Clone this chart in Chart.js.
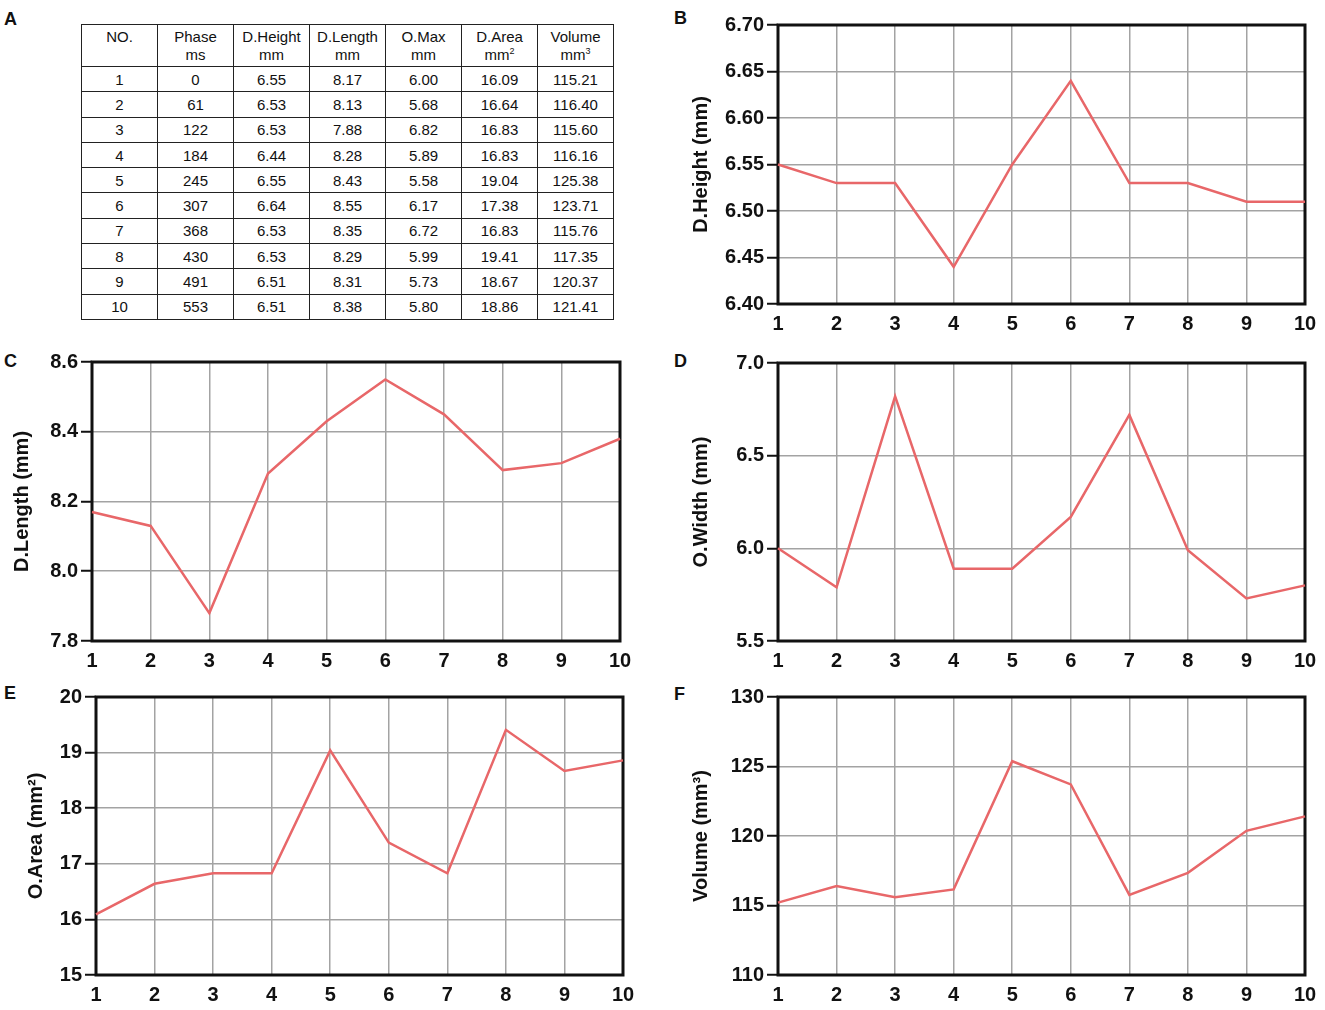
<!DOCTYPE html>
<html>
<head>
<meta charset="utf-8">
<script src="https://cdn.jsdelivr.net/npm/chart.js@4.4.1/dist/chart.umd.min.js"></script>
<style>
  body { margin: 0; background: #fff; font-family: "Liberation Sans", Arial, sans-serif; }
  #page { position: relative; width: 1325px; height: 1010px; overflow: hidden; }
  canvas { position: absolute; }
  .tag { position: absolute; font-weight: bold; font-size: 18px; color: #111; }
  table { position: absolute; left: 81px; top: 24px; border-collapse: collapse; font-size: 15px; color: #111; }
  td, th { border: 1.5px solid #222; width: 75px; text-align: center; padding: 0; font-weight: normal; }
  th { height: 42px; vertical-align: top; line-height: 18px; padding-top: 3px; box-sizing: border-box; }
  td { height: 24.3px; }
  sup { font-size: 9px; vertical-align: 6px; line-height: 0; }
</style>
</head>
<body>
<div id="page">
  <div class="tag" style="left:4px;top:9px">A</div>
  <div class="tag" style="left:674px;top:8px">B</div>
  <div class="tag" style="left:4px;top:351px">C</div>
  <div class="tag" style="left:674px;top:351px">D</div>
  <div class="tag" style="left:4px;top:683px">E</div>
  <div class="tag" style="left:674px;top:684px">F</div>
  <table id="tbl"></table>
  <canvas id="chartB" width="645" height="340" style="left:680px;top:0px"></canvas>
  <canvas id="chartC" width="660" height="340" style="left:0px;top:340px"></canvas>
  <canvas id="chartD" width="645" height="340" style="left:680px;top:340px"></canvas>
  <canvas id="chartE" width="660" height="340" style="left:0px;top:670px"></canvas>
  <canvas id="chartF" width="645" height="340" style="left:680px;top:670px"></canvas>
</div>
<script>
// table values (panel A)
const phaseNo = ['1', '2', '3', '4', '5', '6', '7', '8', '9', '10'];
const phaseMs = [0, 61, 122, 184, 245, 307, 368, 430, 491, 553];
const dHeight = [6.55, 6.53, 6.53, 6.44, 6.55, 6.64, 6.53, 6.53, 6.51, 6.51];
const dLength = [8.17, 8.13, 7.88, 8.28, 8.43, 8.55, 8.35, 8.29, 8.31, 8.38];
const oMax = [6.00, 5.68, 6.82, 5.89, 5.58, 6.17, 6.72, 5.99, 5.73, 5.80];
const dArea = [16.09, 16.64, 16.83, 16.83, 19.04, 17.38, 16.83, 19.41, 18.67, 18.86];
const volume = [115.21, 116.40, 115.60, 116.16, 125.38, 123.71, 115.76, 117.35, 120.37, 121.41];

// values as plotted (C and D differ a little from the table)
const dLengthPlot = [8.17, 8.13, 7.88, 8.28, 8.43, 8.55, 8.45, 8.29, 8.31, 8.38];
const oWidthPlot = [6.00, 5.79, 6.82, 5.89, 5.89, 6.17, 6.72, 5.99, 5.73, 5.80];

const headers = [['NO.', ''], ['Phase', 'ms'], ['D.Height', 'mm'], ['D.Length', 'mm'],
                 ['O.Max', 'mm'], ['D.Area', 'mm<sup>2</sup>'], ['Volume', 'mm<sup>3</sup>']];

let html = '<tr>' + headers.map(h => '<th>' + h[0] + '<br>' + h[1] + '</th>').join('') + '</tr>';
phaseNo.forEach((n, i) => {
    html += '<tr><td>' + n + '</td><td>' + phaseMs[i] + '</td><td>' + dHeight[i].toFixed(2) +
        '</td><td>' + dLength[i].toFixed(2) + '</td><td>' + oMax[i].toFixed(2) +
        '</td><td>' + dArea[i].toFixed(2) + '</td><td>' + volume[i].toFixed(2) + '</td></tr>';
});
document.getElementById('tbl').innerHTML = html;

const frame = {
    id: 'frame',
    beforeDatasetsDraw(chart) {
        const { ctx, chartArea: a } = chart;
        ctx.save();
        ctx.strokeStyle = '#111';
        ctx.lineWidth = 3;
        ctx.strokeRect(a.left, a.top, a.right - a.left, a.bottom - a.top);
        ctx.restore();
    }
};

const tickFont = { family: 'Liberation Sans', size: 20, weight: 'bold' };

function panel(id, values, cfg) {
    new Chart(document.getElementById(id), {
        type: 'line',
        data: {
            labels: phaseNo,
            datasets: [{
                data: values,
                borderColor: '#e86769',
                borderWidth: 2.5,
                pointRadius: 0,
                tension: 0
            }]
        },
        options: {
            responsive: false,
            animation: false,
            layout: { padding: { left: 0, top: cfg.top, right: cfg.right, bottom: 0 } },
            plugins: { legend: { display: false }, tooltip: { enabled: false } },
            scales: {
                x: {
                    grid: { color: '#a3a3a3', lineWidth: 1.5, drawTicks: false },
                    border: { display: false },
                    ticks: { color: '#111', font: tickFont, padding: 8, maxRotation: 0, autoSkip: false },
                    afterFit: s => { s.height = cfg.bottom; }
                },
                y: {
                    min: cfg.min,
                    max: cfg.max,
                    grid: { color: '#a3a3a3', lineWidth: 1.5, tickLength: 11, tickColor: '#111', tickWidth: 2 },
                    border: { display: false },
                    ticks: {
                        stepSize: cfg.step, color: '#111', font: tickFont, padding: 3,
                        callback: v => Number(v).toFixed(cfg.dec)
                    },
                    title: {
                        display: true, text: cfg.title, color: '#111',
                        font: { family: 'Liberation Sans', size: 20, weight: 'bold' },
                        padding: { top: cfg.tpad, bottom: 0 }
                    },
                    afterFit: s => { s.width = cfg.left; }
                }
            }
        },
        plugins: [frame]
    });
}

panel('chartB', dHeight, { min: 6.40, max: 6.70, step: 0.05, dec: 2, title: 'D.Height (mm)',
    left: 98, top: 25, right: 20, bottom: 36, tpad: 9 });
panel('chartC', dLengthPlot, { min: 7.8, max: 8.6, step: 0.2, dec: 1, title: 'D.Length (mm)',
    left: 92, top: 22, right: 40, bottom: 39, tpad: 10 });
panel('chartD', oWidthPlot, { min: 5.5, max: 7.0, step: 0.5, dec: 1, title: 'O.Width (mm)',
    left: 98, top: 23, right: 20, bottom: 39, tpad: 9 });
panel('chartE', dArea, { min: 15, max: 20, step: 1, dec: 0, title: 'O.Area (mm²)',
    left: 96, top: 27, right: 37, bottom: 35, tpad: 24 });
panel('chartF', volume, { min: 110, max: 130, step: 5, dec: 0, title: 'Volume (mm³)',
    left: 98, top: 27, right: 20, bottom: 35, tpad: 9 });
</script>
</body>
</html>
